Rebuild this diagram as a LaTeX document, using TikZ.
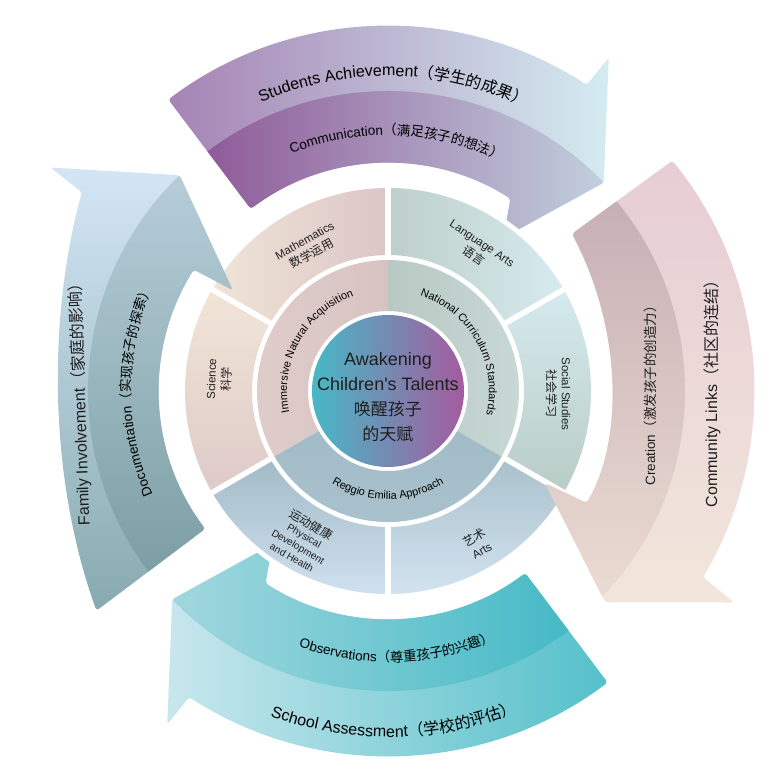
\documentclass[tikz,border=0pt]{standalone}
\usepackage{fontspec}
\setmainfont{Liberation Sans}
\newfontfamily\cjk{Noto Sans CJK SC}
\usetikzlibrary{decorations.text}

\definecolor{topout1}{HTML}{A583B4}
\definecolor{topout2}{HTML}{D4ECF1}
\definecolor{topin1}{HTML}{8D5897}
\definecolor{topin2}{HTML}{C4D3E0}
\definecolor{rgtout1}{HTML}{E6CDD4}
\definecolor{rgtout2}{HTML}{F2E6DB}
\definecolor{rgtin1}{HTML}{C6AEB4}
\definecolor{rgtin2}{HTML}{EADBD2}
\definecolor{botout1}{HTML}{C8E7ED}
\definecolor{botout2}{HTML}{55C0CA}
\definecolor{botin1}{HTML}{A5D8DF}
\definecolor{botin2}{HTML}{42B9C5}
\definecolor{lftout1}{HTML}{87AAAF}
\definecolor{lftout2}{HTML}{D4E6F6}
\definecolor{lftin1}{HTML}{7A9DA2}
\definecolor{lftin2}{HTML}{B9CFDB}
\definecolor{mathL}{HTML}{F0E4D7}
\definecolor{mathR}{HTML}{DBC6C6}
\definecolor{sciT}{HTML}{F1E5D7}
\definecolor{sciB}{HTML}{DECAC8}
\definecolor{immL}{HTML}{E0CECB}
\definecolor{immR}{HTML}{D8C3C3}
\definecolor{langL}{HTML}{BECFCA}
\definecolor{langR}{HTML}{D6EBEF}
\definecolor{socT}{HTML}{D5EAEF}
\definecolor{socB}{HTML}{B9CCC5}
\definecolor{natL}{HTML}{B8C8C2}
\definecolor{natR}{HTML}{C8D8D5}
\definecolor{regT}{HTML}{A2BCC7}
\definecolor{regB}{HTML}{AAC2CD}
\definecolor{phyT}{HTML}{A2BBC6}
\definecolor{phyB}{HTML}{D0E0EF}
\definecolor{artT}{HTML}{A9C1CC}
\definecolor{artB}{HTML}{D3E3F0}
\definecolor{centL}{HTML}{48B8C6}
\definecolor{centR}{HTML}{A45B9E}

\newcommand{\titlefont}{\fontsize{16}{18}\selectfont}
\newcommand{\titlecjk}{\cjk\fontsize{16}{18}\selectfont}
\newcommand{\subfont}{\fontsize{13.5}{15}\selectfont}
\newcommand{\subcjk}{\cjk\fontsize{13.5}{15}\selectfont}
\newcommand{\ringfont}{\fontsize{11}{13}\selectfont}

% curved arrow, drawn for the top one and turned by #1 degrees
\newcommand{\arrowpath}[1]{({127+#1}:365) arc[start angle={127+#1}, end angle={57+#1}, radius=365]
  -- ({56.5+#1}:400) -- ({44+#1}:300) -- ({53+#1}:192) -- ({57.5+#1}:228)
  arc[start angle={57.5+#1}, end angle={127+#1}, radius=228] -- cycle}
\newcommand{\leftarrowpath}{(217:365) .. controls (-340,-85) and (-340,75) .. (147:365)
  -- (146.5:405) -- (134:300) -- (147:185) -- (148:229)
  arc[start angle=148, end angle=217, radius=229] -- cycle}
\newcommand{\rightarrowpath}{(39:366) arc[start angle=39, end angle=-30.6, radius=366]
  -- (-31.4:406) -- (-44.2:303) -- (-30.4:182) -- (-29.4:228)
  .. controls (235,-50) and (235,60) .. (40.5:242) -- cycle}
\newcommand{\tonepath}[1]{({130+#1}:150) -- ({130+#1}:300) arc[start angle={130+#1}, end angle={40+#1}, radius=300] -- ({40+#1}:150) -- cycle}
\newcommand{\ringsector}[4]{(#1:#3) arc[start angle=#1, end angle=#2, radius=#3] -- (#2:#4) arc[start angle=#2, end angle=#1, radius=#4] -- cycle}

\begin{document}
\begin{tikzpicture}[x=1pt, y=1pt,
  lbltext/.style={text=black!88, align=center, inner sep=1pt},
  ringlbl/.style={lbltext, font=\fontsize{11.5}{15}\selectfont},
  smalllbl/.style={lbltext, font=\fontsize{10}{12.5}\selectfont},
  sepline/.style={white, line width=5.5pt},
  curved/.style={decorate, decoration={text along path, text align=center, text={#1}}},
]
\useasboundingbox (-388,-389) rectangle (392,391);
% top and bottom arrows, behind the wheel
\shade[left color=topout1, right color=topout2, rounded corners=3pt] \arrowpath{0};
\begin{scope}
  \clip[rounded corners=3pt] \arrowpath{0};
  \shade[left color=topin1, right color=topin2] \tonepath{0};
\end{scope}
\shade[left color=botout1, right color=botout2, rounded corners=3pt] \arrowpath{180};
\begin{scope}
  \clip[rounded corners=3pt] \arrowpath{180};
  \shade[left color=botin1, right color=botin2] \tonepath{180};
\end{scope}
% white gap round the wheel
\fill[white] (0,0) circle[radius=208];
% outer ring
\shade[left color=mathL, right color=mathR] \ringsector{90}{150}{136}{203};
\shade[top color=sciT, bottom color=sciB] \ringsector{150}{210}{136}{203};
\shade[top color=phyT, bottom color=phyB] \ringsector{210}{270}{136}{203};
\shade[top color=artT, bottom color=artB] \ringsector{270}{330}{136}{203};
\shade[top color=socT, bottom color=socB] \ringsector{-30}{30}{136}{203};
\shade[left color=langL, right color=langR] \ringsector{30}{90}{136}{203};
\foreach \a in {30,90,...,330} \draw[sepline] (\a:132) -- (\a:207);
% inner ring
\shade[left color=immL, right color=immR] \ringsector{90}{210}{80}{131};
\shade[left color=natL, right color=natR] \ringsector{-30}{90}{80}{131};
\shade[top color=regT, bottom color=regB] \ringsector{210}{330}{80}{131};
% centre
\shade[left color=centL, right color=centR] (0,0) circle[radius=76];
% left and right arrows, their heads lie over the ring
\shade[top color=rgtout1, bottom color=rgtout2, rounded corners=3pt] \rightarrowpath;
\begin{scope}
  \clip[rounded corners=3pt] \rightarrowpath;
  \shade[top color=rgtin1, bottom color=rgtin2] (45:150) -- (45:297) arc[start angle=45, end angle=-44.2, radius=297] -- (-44.2:150) -- cycle;
\end{scope}
\shade[bottom color=lftout1, top color=lftout2, rounded corners=3pt] \leftarrowpath;
\begin{scope}
  \clip[rounded corners=3pt] \leftarrowpath;
  \shade[bottom color=lftin1, top color=lftin2] \tonepath{90};
\end{scope}

% arrow texts
\path[curved={|\titlefont|Students Achievement|\titlecjk|（学生的成果）}] (149:315) arc[start angle=149, end angle=29, radius=315];
\path[curved={|\subfont|Communication|\subcjk|（满足孩子的想法）}] (148:256) arc[start angle=148, end angle=28, radius=256];
\path[curved={|\titlefont|School Assessment|\titlecjk|（学校的评估）}] (211:346) arc[start angle=211, end angle=331, radius=346];
\path[curved={|\subfont|Observations|\subcjk|（尊重孩子的兴趣）}] (212:271) arc[start angle=212, end angle=332, radius=271];
\path[curved={|\subfont|Documentation|\subcjk|（实现孩子的探索）}] (240:257) arc[start angle=240, end angle=120, radius=257];
\node[lbltext, font=\titlefont, rotate=92] (family) at (-308,-10) {Family Involvement{\cjk（家庭的影响）}};
\node[lbltext, font=\titlefont, rotate=90] (community) at (324,1) {Community Links{\cjk（社区的连结）}};
\node[lbltext, font=\subfont, rotate=90] (creation) at (262,-1.5) {Creation{\cjk（激发孩子的创造力）}};

% inner ring texts
\path[curved={|\ringfont|Immersive Natural Acquisition}] (241:101) arc[start angle=241, end angle=61, radius=101];
\path[curved={|\ringfont|National Curriculum Standards}] (119:101) arc[start angle=119, end angle=-61, radius=101];
\path[curved={|\ringfont|Reggio Emilia Approach}] (200:108) arc[start angle=200, end angle=340, radius=108];

% outer ring texts
\node[ringlbl, rotate=29] (math) at (119:164) {Mathematics\\{\cjk\fontsize{12}{15}\selectfont 数学运用}};
\node[ringlbl, rotate=-34] (lang) at (57.5:167) {Language Arts\\{\cjk\fontsize{12}{15}\selectfont 语言}};
\node[ringlbl, rotate=88] (sci) at (176:169) {Science\\{\cjk\fontsize{12}{15}\selectfont 科学}};
\node[ringlbl, rotate=-90] (soc) at (-1:170) {Social Studies\\{\cjk\fontsize{12}{15}\selectfont 社会学习}};
\node[smalllbl, rotate=-30] (phy) at (240:172) {{\cjk\fontsize{12}{14}\selectfont 运动健康}\\Physical\\Development\\and Health};
\node[ringlbl, rotate=30] (art) at (300.5:177) {{\cjk\fontsize{12}{15}\selectfont 艺术}\\Arts};

% centre text
\node[lbltext, font=\fontsize{18}{25}\selectfont] (core) at (0,-6) {Awakening\\Children\textquotesingle s Talents\\{\cjk\fontsize{17}{25}\selectfont 唤醒孩子}\\{\cjk\fontsize{17}{25}\selectfont 的天赋}};
\end{tikzpicture}
\end{document}
